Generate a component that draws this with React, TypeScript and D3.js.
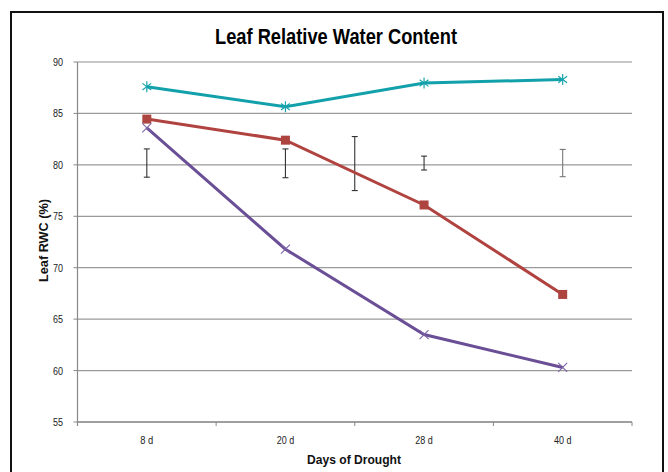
import React from "react";
import * as d3 from "d3";

const categories = ["8 d", "20 d", "28 d", "40 d"];
const teal = [87.6, 85.65, 87.95, 88.3];
const red = [84.45, 82.4, 76.1, 67.4];
const purple = [83.6, 71.8, 63.5, 60.3];
// error bars: position in category units, low, high
const errPos = [0, 1, 1.5, 2, 3];
const errLow = [78.8, 78.75, 77.5, 79.5, 78.85];
const errHigh = [81.55, 81.55, 82.75, 80.85, 81.5];
const yTicks = [55, 60, 65, 70, 75, 80, 85, 90];

const W = 668, H = 472;
const left = 77.5, right = 632, top = 62, bottom = 422;

export default function App() {
  const x = d3.scaleLinear().domain([-0.5, 3.5]).range([left, right]);
  const y = d3.scaleLinear().domain([55, 90]).range([bottom, top]);
  const line = d3.line<number>().x((_, i) => x(i)).y((d) => y(d));
  const sans = "'Liberation Sans', Arial, sans-serif";
  const bounds = d3.range(5).map((i) => x(i - 0.5));
  const star = (cx: number, cy: number, k: number) => {
    const r = 5.5;
    return (
      <g key={k} stroke="#1aa3ae" strokeWidth={1.2}>
        <line x1={cx} y1={cy - r} x2={cx} y2={cy + r} />
        <line x1={cx - r * 0.8} y1={cy - r * 0.6} x2={cx + r * 0.8} y2={cy + r * 0.6} />
        <line x1={cx - r * 0.8} y1={cy + r * 0.6} x2={cx + r * 0.8} y2={cy - r * 0.6} />
      </g>
    );
  };
  return (
    <svg width={W} height={H} style={{ position: "absolute", left: 0, top: 0 }}>
      <rect x={0} y={0} width={W} height={H} fill="#fff" />
      <rect x={11} y={12} width={652} height={470} fill="#fff" stroke="#111" strokeWidth={2} />
      <text x={336} y={43.5} textAnchor="middle" fontFamily={sans} fontWeight="bold" fontSize={21.5} fill="#000"
        textLength={242} lengthAdjust="spacingAndGlyphs">
        Leaf Relative Water Content
      </text>
      {yTicks.map((t) => (
        <g key={t}>
          <line x1={left} x2={right} y1={y(t)} y2={y(t)} stroke={t === 90 ? "#b5b5b5" : "#9a9a9a"} strokeWidth={1.3} />
          <line x1={left - 4} x2={left} y1={y(t)} y2={y(t)} stroke="#888" />
          <text x={63} y={y(t) + 4} textAnchor="end" fontFamily={sans} fontSize={11.5} fill="#222"
            textLength={10} lengthAdjust="spacingAndGlyphs">
            {t}
          </text>
        </g>
      ))}
      <line x1={left} x2={left} y1={top} y2={bottom + 4} stroke="#888" strokeWidth={1.2} />
      <line x1={left} x2={right} y1={bottom} y2={bottom} stroke="#999" strokeWidth={1.3} />
      {bounds.map((b, i) => (
        <line key={i} x1={b} x2={b} y1={bottom} y2={bottom + 4} stroke="#888" />
      ))}
      {categories.map((c) => {
        const i = categories.indexOf(c);
        return (
          <text key={c} x={x(i)} y={444} textAnchor="middle" fontFamily={sans} fontSize={11} fill="#222"
            textLength={c.length === 3 ? 13 : 17.5} lengthAdjust="spacingAndGlyphs">
            {c}
          </text>
        );
      })}
      <text x={354} y={464} textAnchor="middle" fontFamily={sans} fontWeight="bold" fontSize={12} fill="#111"
        textLength={94} lengthAdjust="spacingAndGlyphs">
        Days of Drought
      </text>
      <text
        transform={`translate(48,240.5) rotate(-90)`}
        textAnchor="middle"
        fontFamily={sans}
        fontWeight="bold"
        fontSize={12}
        fill="#111"
        textLength={83}
        lengthAdjust="spacingAndGlyphs"
      >
        Leaf RWC (%)
      </text>
      {errPos.map((p, i) => {
        const cx = x(p);
        const col = i === 4 ? "#777" : "#333";
        return (
          <g key={i} stroke={col} strokeWidth={1.1}>
            <line x1={cx} x2={cx} y1={y(errLow[i])} y2={y(errHigh[i])} />
            <line x1={cx - 3} x2={cx + 3} y1={y(errLow[i])} y2={y(errLow[i])} />
            <line x1={cx - 3} x2={cx + 3} y1={y(errHigh[i])} y2={y(errHigh[i])} />
          </g>
        );
      })}
      <path d={line(teal) || ""} fill="none" stroke="#12a0aa" strokeWidth={3} />
      {teal.map((v, i) => star(x(i), y(v), i))}
      <path d={line(red) || ""} fill="none" stroke="#b0433f" strokeWidth={3} />
      {red.map((v, i) => (
        <rect key={i} x={x(i) - 4.5} y={y(v) - 4.5} width={9} height={9} fill="#ad4440" />
      ))}
      <path d={line(purple) || ""} fill="none" stroke="#6a4e96" strokeWidth={3} />
      {purple.map((v, i) => (
        <g key={i} stroke="#7b62a6" strokeWidth={1.1}>
          <line x1={x(i) - 4.5} y1={y(v) - 4.5} x2={x(i) + 4.5} y2={y(v) + 4.5} />
          <line x1={x(i) - 4.5} y1={y(v) + 4.5} x2={x(i) + 4.5} y2={y(v) - 4.5} />
        </g>
      ))}
    </svg>
  );
}
